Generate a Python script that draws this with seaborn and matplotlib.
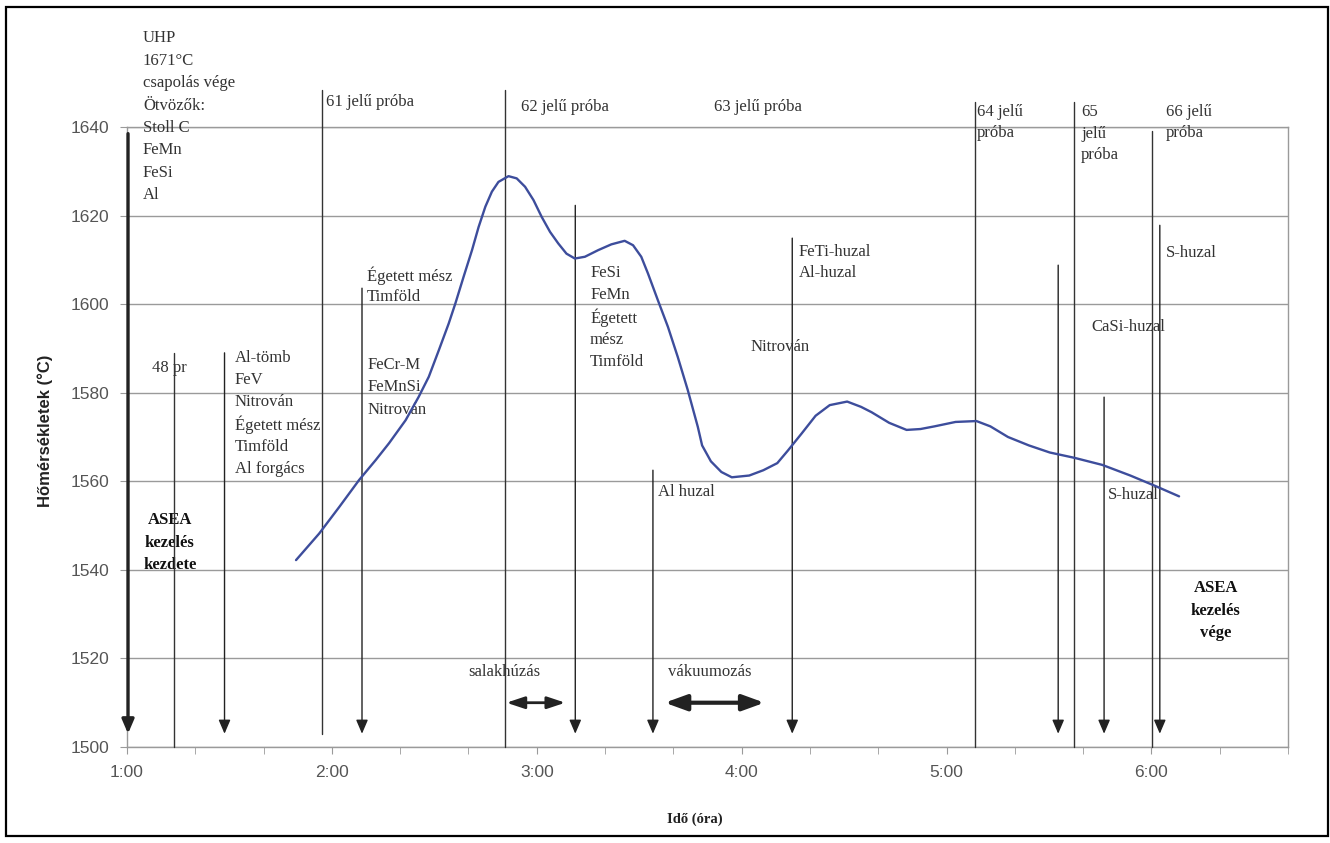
import matplotlib.pyplot as plt
import matplotlib.patches as patches
import seaborn as sns
import pandas as pd

# time in hours (1.0 = 1:00), temperature in °C
time_h = [1.825, 1.938, 2.036, 2.133, 2.214, 2.279, 2.360, 2.424, 2.473, 2.522,
          2.570, 2.603, 2.643, 2.684, 2.716, 2.749, 2.781, 2.813, 2.862, 2.902,
          2.943, 2.984, 3.024, 3.065, 3.105, 3.145, 3.186, 3.235, 3.300, 3.364,
          3.429, 3.470, 3.510, 3.543, 3.591, 3.640, 3.688, 3.737, 3.786, 3.807,
          3.850, 3.901, 3.952, 4.037, 4.106, 4.174, 4.225, 4.293, 4.361, 4.430,
          4.515, 4.583, 4.634, 4.720, 4.805, 4.873, 4.941, 5.044, 5.146, 5.214,
          5.300, 5.402, 5.504, 5.624, 5.760, 5.897, 6.016, 6.135]
temp_c = [1542.2, 1548.2, 1554.2, 1560.3, 1564.8, 1568.6, 1573.8, 1579.1, 1583.6, 1589.6,
          1595.6, 1600.2, 1606.2, 1612.2, 1617.4, 1622.0, 1625.4, 1627.6, 1628.9, 1628.4,
          1626.5, 1623.5, 1619.7, 1616.3, 1613.7, 1611.4, 1610.3, 1610.7, 1612.2, 1613.5,
          1614.3, 1613.3, 1610.7, 1606.9, 1600.9, 1594.9, 1588.1, 1580.6, 1572.3, 1568.1,
          1564.5, 1562.1, 1560.9, 1561.3, 1562.5, 1564.1, 1566.9, 1570.8, 1574.8, 1577.2,
          1578.0, 1576.8, 1575.6, 1573.2, 1571.6, 1571.8, 1572.4, 1573.4, 1573.6, 1572.4,
          1570.0, 1568.1, 1566.5, 1565.3, 1563.7, 1561.3, 1559.0, 1556.6]

# additions (arrows): time, temperature where the arrow starts
event_time = [1.476, 2.147, 3.188, 3.567, 4.247, 5.545, 5.769, 6.041]
event_top = [1589, 1603.6, 1622.3, 1562.5, 1614.9, 1608.8, 1579, 1617.8]
# samples / plain lines: time, top, bottom
sample_time = [1.228, 1.953, 2.843, 5.137, 5.623, 6.002]
sample_top = [1589, 1648.3, 1648.3, 1645.6, 1645.6, 1639]
sample_bottom = [1500, 1503, 1500, 1500, 1500, 1500]

salak = (2.852, 3.139)
vakuum = (3.625, 4.111)

serif = 'Liberation Serif'
txt_col = '#333333'

sns.set_style('white')
plt.rcParams['font.family'] = ['Liberation Sans', 'DejaVu Sans']

fig = plt.figure(figsize=(13.3, 8.43), dpi=100)
ax = fig.add_axes([127 / 1330, 96 / 843, 1161 / 1330, 620 / 843])

df = pd.DataFrame({'t': time_h, 'T': temp_c})
sns.lineplot(data=df, x='t', y='T', ax=ax, color='#3d4d9c', lw=1.7, zorder=5)

ax.set_xlim(1, 6 + 2 / 3)
ax.set_ylim(1500, 1640)
ax.set_yticks(range(1500, 1641, 20))
ax.set_xticks(range(1, 7))
ax.set_xticklabels([f'{h}:00' for h in range(1, 7)])
ax.set_xticks([1 + i / 3 for i in range(18)], minor=True)
ax.yaxis.grid(True, color='#9a9a9a', lw=1)
for s in ax.spines.values():
    s.set_color('#9a9a9a')
    s.set_linewidth(1)
ax.tick_params(axis='both', which='both', length=5, color='#9a9a9a',
               labelsize=12.5, labelcolor='#555555', pad=8, direction='out')
ax.tick_params(axis='x', which='both', bottom=True)
ax.tick_params(axis='y', left=True)

ax.set_ylabel('Hőmérsékletek (°C)', fontsize=12, fontweight='bold', color='#222222')
ax.yaxis.set_label_coords(-0.064, 0.51)
ax.set_xlabel('Idő (óra)', fontsize=10.5, fontweight='bold', family=serif, color='#222222')
ax.xaxis.set_label_coords(0.489, -0.105)

# start of treatment: thick arrow
ax.annotate('', xy=(1.005, 1503), xytext=(1.005, 1638.5), annotation_clip=False,
            arrowprops=dict(arrowstyle='-|>,head_length=0.7,head_width=0.3',
                            color='#222222', lw=2.4, mutation_scale=12, shrinkA=0, shrinkB=0))
for t, top in zip(event_time, event_top):
    ax.annotate('', xy=(t, 1503), xytext=(t, top), annotation_clip=False,
                arrowprops=dict(arrowstyle='-|>,head_length=0.7,head_width=0.3',
                                color='#222222', lw=1, mutation_scale=12, shrinkA=0, shrinkB=0))
for t, top, bot in zip(sample_time, sample_top, sample_bottom):
    ax.plot([t, t], [bot, top], color='#333333', lw=1, clip_on=False, zorder=4)

ax.annotate('', xy=(salak[0], 1510), xytext=(salak[1], 1510),
            arrowprops=dict(arrowstyle='<|-|>,head_length=0.9,head_width=0.3',
                            color='#222222', lw=2, mutation_scale=12, shrinkA=0, shrinkB=0))
ax.annotate('', xy=(vakuum[0], 1510), xytext=(vakuum[1], 1510),
            arrowprops=dict(arrowstyle='<|-|>,head_length=1.1,head_width=0.4',
                            color='#222222', lw=3, mutation_scale=12, shrinkA=0, shrinkB=0))


def block(x, y0, lines, step=5.0, ha='left', bold=False):
    for i, s in enumerate(lines):
        ax.text(x, y0 - i * step, s, ha=ha, va='center', fontsize=12, family=serif,
                color='#111111' if bold else txt_col,
                fontweight='bold' if bold else 'normal', clip_on=False)


block(1.078, 1660, ['UHP', '1671°C', 'csapolás vége', 'Ötvözők:', 'Stoll C', 'FeMn', 'FeSi', 'Al'], step=5.05)
block(1.972, 1645.6, ['61 jelű próba'])
block(2.925, 1644.5, ['62 jelű próba'])
block(3.863, 1644.5, ['63 jelű próba'])
block(5.147, 1643.3, ['64 jelű', 'próba'], step=4.7)
block(5.657, 1643.3, ['65', 'jelű', 'próba'], step=4.85)
block(6.070, 1643.3, ['66 jelű', 'próba'], step=4.7)
block(2.172, 1606.5, ['Égetett mész', 'Timföld'])
block(1.120, 1585.6, ['48 pr'])
block(1.525, 1587.8, ['Al-tömb', 'FeV', 'Nitrován', 'Égetett mész', 'Timföld', 'Al forgács'])
block(2.172, 1586.2, ['FeCr-M', 'FeMnSi', 'Nitrován'])
block(3.260, 1607.0, ['FeSi', 'FeMn', 'Égetett', 'mész', 'Timföld'])
block(4.277, 1611.7, ['FeTi-huzal', 'Al-huzal'], step=4.7)
block(4.043, 1590.3, ['Nitrován'])
block(6.070, 1611.5, ['S-huzal'])
block(5.706, 1594.8, ['CaSi-huzal'])
block(5.789, 1556.9, ['S-huzal'])
block(3.591, 1557.6, ['Al huzal'])
block(1.209, 1551.2, ['ASEA', 'kezelés', 'kezdete'], step=5.1, ha='center', bold=True)
block(6.314, 1535.9, ['ASEA', 'kezelés', 'vége'], step=5.1, ha='center', bold=True)
block(2.667, 1516.9, ['salakhúzás'])
block(3.640, 1516.9, ['vákuumozás'])

fig.patches.append(patches.Rectangle((6 / 1330, 7 / 843), 1322 / 1330, 829 / 843,
                                     transform=fig.transFigure, fill=False,
                                     edgecolor='black', lw=1.6))

fig.savefig('out.png', dpi=100)
